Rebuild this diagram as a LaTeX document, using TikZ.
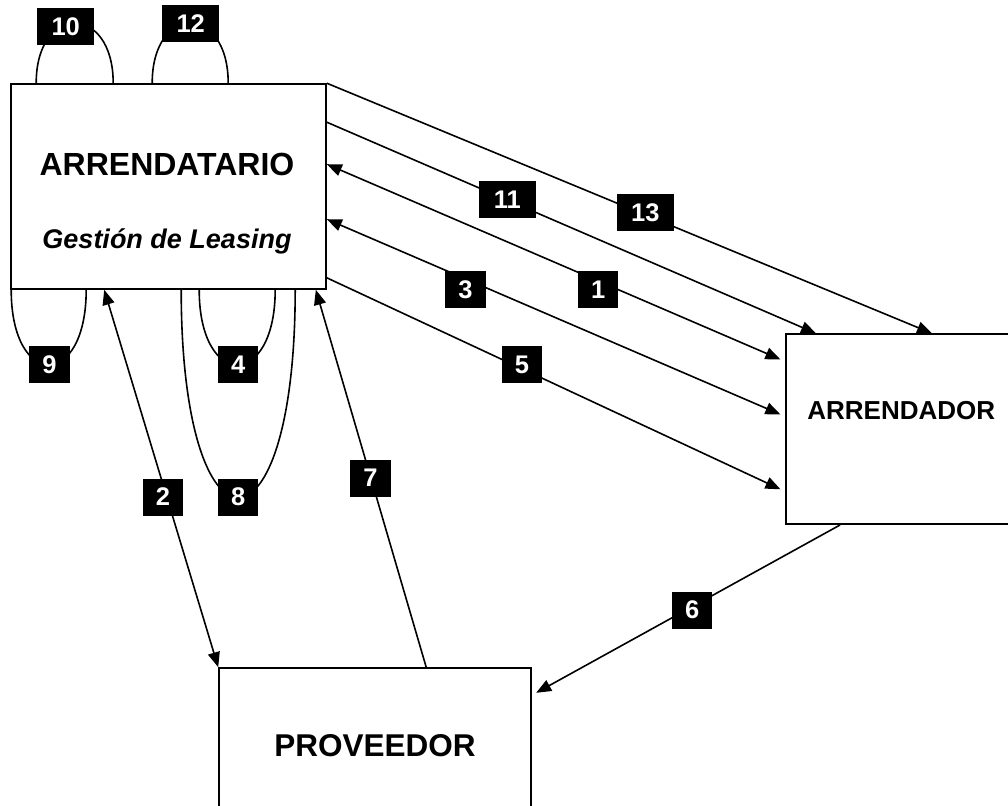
\documentclass[tikz,border=0pt]{standalone}
\usepackage{fontspec}
\setmainfont{Liberation Sans}
\usetikzlibrary{arrows.meta}

\tikzset{
  box/.style={draw, line width=1.6pt, inner sep=0pt},
  conn/.style={line width=1.6pt},
  arrow/.style={conn, -{Triangle[length=15pt,width=12pt]}},
  twoway/.style={conn, {Triangle[length=15pt,width=12pt]}-{Triangle[length=15pt,width=12pt]}},
  num/.style={fill=black, text=white, font=\fontsize{25.5}{26}\selectfont\bfseries,
    minimum height=37pt, minimum width=39pt, inner xsep=13pt, inner ysep=0pt},
  numw/.style={num, minimum width=57pt},
  title/.style={font=\fontsize{32}{36}\selectfont\bfseries, anchor=base},
}

\begin{document}
\begin{tikzpicture}[x=1pt, y=-1pt]
    \clip (0,0) rectangle (1008,805);

    % Boxes
    \node[box, minimum width=315pt, minimum height=205pt] (arr) at (168.5,186.5) {};
    \node[box, minimum width=231pt, minimum height=190pt] (ard) at (901.3,429.2) {};
    \node[box, minimum width=312pt, minimum height=162pt] (prv) at (375,749) {};

    % Box titles
    \node[title] (arrname) at (167,175.7) {ARRENDATARIO};
    \node[title, font=\fontsize{27}{30}\selectfont\bfseries\itshape] (arrsub) at (167,248.3) {Gestión de Leasing};
    \node[title, font=\fontsize{26}{30}\selectfont\bfseries] (ardname) at (901.3,419) {ARRENDADOR};
    \node[title, font=\fontsize{31.5}{36}\selectfont\bfseries] (prvname) at (375,756.7) {PROVEEDOR};

    % Flows between boxes
    \draw[arrow] (arr.north east) -- ([xshift=147pt]ard.north west);
    \draw[arrow] ([yshift=-39pt]arr.north east) -- ([xshift=31pt]ard.north west);
    \draw[twoway, shorten >=5pt] ([yshift=-81pt]arr.north east) -- ([yshift=-28pt]ard.north west);
    \draw[twoway, shorten >=5pt] ([yshift=-136pt]arr.north east) -- ([yshift=-83pt]ard.north west);
    \draw[arrow, shorten >=5pt] ([yshift=12pt]arr.south east) -- ([yshift=-158pt]ard.north west);
    \draw[twoway] ([xshift=94pt]arr.south west) -- (prv.north west);
    \draw[arrow] ([xshift=208pt]prv.north west) -- ([xshift=-11pt]arr.south east);
    \draw[arrow, shorten >=5pt] ([xshift=55pt]ard.south west) -- ([yshift=-28pt]prv.north east);

    % Loops on the arrendatario
    \draw[conn] ([xshift=26pt]arr.north west) .. controls +(0,-80) and +(0,-80) .. ([xshift=103pt]arr.north west);
    \draw[conn] ([xshift=142pt]arr.north west) .. controls +(0,-80) and +(0,-80) .. ([xshift=218pt]arr.north west);
    \draw[conn] ([xshift=1pt]arr.south west) .. controls +(0,100) and +(0,100) .. ([xshift=76pt]arr.south west);
    \draw[conn] ([xshift=189pt]arr.south west) .. controls +(0,100) and +(0,100) .. ([xshift=265pt]arr.south west);
    \draw[conn] ([xshift=171pt]arr.south west) .. controls +(0,277) and +(0,277) .. ([xshift=285pt]arr.south west);

    % Step numbers
    \node[numw] (n10) at (65.7,26.5) {10};
    \node[numw] (n12) at (190.7,24) {12};
    \node[numw] (n11) at (507.3,199.7) {11};
    \node[numw] (n13) at (645.3,212.8) {13};
    \node[num] (n1) at (598.3,289.3) {1};
    \node[num] (n3) at (465.5,289.3) {3};
    \node[num] (n5) at (522,364.7) {5};
    \node[num] (n9) at (49.5,364.7) {9};
    \node[num] (n4) at (238.3,364.7) {4};
    \node[num] (n8) at (238.3,497) {8};
    \node[num] (n2) at (163,497) {2};
    \node[num] (n7) at (370.5,478) {7};
    \node[num] (n6) at (692.3,610) {6};
\end{tikzpicture}
\end{document}
